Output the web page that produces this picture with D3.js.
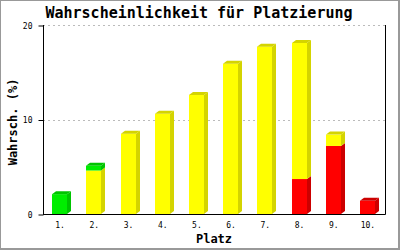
<!DOCTYPE html>
<html><head><meta charset="utf-8">
<script src="https://cdn.jsdelivr.net/npm/d3@7"></script>
<style>body{margin:0;background:#fff}svg{display:block}</style>
</head><body>
<script>
const categories = ["1.","2.","3.","4.","5.","6.","7.","8.","9.","10."];
const redVals    = [0, 0, 0, 0, 0, 0, 0, 3.7, 7.2, 1.4];
const yellowVals = [0, 4.6, 8.5, 10.6, 12.6, 15.9, 17.7, 14.4, 1.2, 0];
const greenVals  = [2.1, 0.5, 0, 0, 0, 0, 0, 0, 0, 0];
const yTicks = [0, 10, 20];
const title = "Wahrscheinlichkeit für Platzierung";
const xTitle = "Platz";
const yTitle = "Wahrsch. (%)";

(function () {
const W = 400, H = 250;
const svg = d3.select("body").append("svg").attr("width", W).attr("height", H);
svg.append("rect").attr("width", W).attr("height", H).attr("fill", "#fff");
// frame
svg.append("rect").attr("x",0.5).attr("y",0.5).attr("width",398).attr("height",248)
  .attr("fill","none").attr("stroke","#999").attr("stroke-width",1);
svg.append("line").attr("x1",399.5).attr("x2",399.5).attr("y1",0).attr("y2",250).attr("stroke","#999");
svg.append("line").attr("x1",0).attr("x2",400).attr("y1",249.5).attr("y2",249.5).attr("stroke","#999");

const pl = 43, pr = 385, pt = 25, pb = 214;
const x = d3.scaleBand().domain(categories).range([pl, pr]);
const y = d3.scaleLinear().domain([0, 20]).range([pb, pt]);

const mono = "'DejaVu Sans Mono', 'Liberation Mono', monospace";

// gridlines
svg.append("g").selectAll("line").data(yTicks.filter(d => d > 0)).join("line")
  .attr("x1", pl).attr("x2", pr)
  .attr("y1", d => Math.round(y(d)) + 0.5).attr("y2", d => Math.round(y(d)) + 0.5)
  .attr("stroke", "#bbb").attr("stroke-dasharray", "2,3");

// bars
const data = categories.map((c, i) => ({cat: c, red: redVals[i], yellow: yellowVals[i], green: greenVals[i]}));
const keys = ["red", "yellow", "green"];
const front = {red: "#ff0000", yellow: "#ffff00", green: "#00ee00"};
const side = {red: "#cc0000", yellow: "#d4d400", green: "#00c400"};
const stacked = d3.stack().keys(keys)(data);
const bw = 15, dx = 4, dy = 3;
const g = svg.append("g");
data.forEach((d, i) => {
  const cx = x(d.cat) + x.bandwidth() / 2;
  const x0 = Math.round(cx - bw / 2 - 0.5);
  let topKey = null;
  stacked.forEach(s => { if (s[i][1] - s[i][0] > 0) topKey = s.key; });
  stacked.forEach(s => {
    const v0 = s[i][0], v1 = s[i][1];
    if (v1 - v0 <= 0) return;
    const yt = y(v1), yb = y(v0);
    g.append("path")
      .attr("d", `M${x0+bw},${yt} L${x0+bw+dx},${yt-dy} L${x0+bw+dx},${yb-dy} L${x0+bw},${yb} Z`)
      .attr("fill", side[s.key]);
    g.append("rect").attr("x", x0).attr("y", yt).attr("width", bw).attr("height", yb - yt)
      .attr("fill", front[s.key]);
    if (s.key === topKey) {
      g.append("path")
        .attr("d", `M${x0},${yt} L${x0+dx},${yt-dy} L${x0+bw+dx},${yt-dy} L${x0+bw},${yt} Z`)
        .attr("fill", side[s.key]);
    }
  });
});

// axes
svg.append("line").attr("x1", pl).attr("x2", pr + 0.5).attr("y1", pb + 0.5).attr("y2", pb + 0.5).attr("stroke", "#000");
svg.append("line").attr("x1", pl + 0.5).attr("x2", pl + 0.5).attr("y1", pt).attr("y2", pb + 0.5).attr("stroke", "#000");
svg.append("line").attr("x1", pr + 0.5).attr("x2", pr + 0.5).attr("y1", pt).attr("y2", pb + 0.5).attr("stroke", "#000");

const yAxis = d3.axisLeft(y).tickValues(yTicks).tickSize(5).tickPadding(6).tickFormat(d3.format("d"));
const ya = svg.append("g").attr("transform", `translate(${pl + 0.5},0.5)`).call(yAxis);
ya.select(".domain").remove();
ya.selectAll("text").attr("font-family", mono).attr("font-size", 8).attr("fill", "#000");

const xAxis = d3.axisBottom(x).tickSize(0).tickPadding(8);
const xa = svg.append("g").attr("transform", `translate(0,${pb})`).call(xAxis);
xa.select(".domain").remove();
xa.selectAll("text").attr("font-family", mono).attr("font-size", 8).attr("fill", "#000");

// titles
svg.append("text").attr("x", 199).attr("y", 18).attr("text-anchor", "middle")
  .attr("font-family", mono).attr("font-weight", "bold").attr("font-size", 15).text(title);
svg.append("text").attr("x", 214).attr("y", 243).attr("text-anchor", "middle")
  .attr("font-family", mono).attr("font-weight", "bold").attr("font-size", 12).text(xTitle);
svg.append("text").attr("transform", "translate(17,122) rotate(-90)").attr("text-anchor", "middle")
  .attr("font-family", mono).attr("font-weight", "bold").attr("font-size", 12).text(yTitle);
})();
</script>
</body></html>
